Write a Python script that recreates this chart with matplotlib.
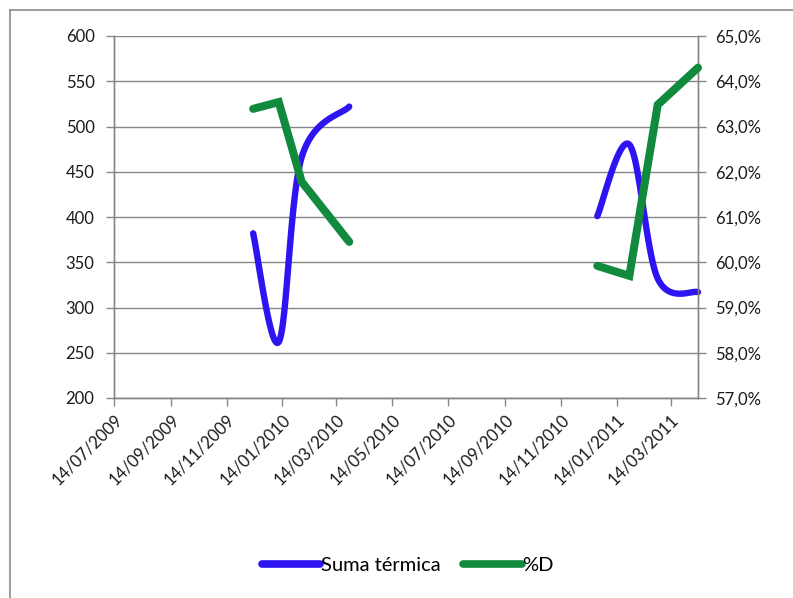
import numpy as np
import matplotlib
matplotlib.use("Agg")
import matplotlib.pyplot as plt
import matplotlib.dates as mdates
from matplotlib.ticker import FuncFormatter, MultipleLocator
from matplotlib.lines import Line2D
import datetime as dt

plt.rcParams['font.family'] = ['Lato', 'DejaVu Sans']

# ---- data ----
seg1_dates = ["2009-12-13", "2010-01-10", "2010-02-04", "2010-03-28"]
seg2_dates = ["2010-12-24", "2011-01-28", "2011-02-28", "2011-04-13"]
suma_seg1 = [382, 262, 466, 522]
suma_seg2 = [401, 480, 332, 317]
pctd_seg1 = [63.39, 63.54, 61.78, 60.45]
pctd_seg2 = [59.92, 59.70, 63.48, 64.30]
tick_labels = ["14/07/2009", "14/09/2009", "14/11/2009", "14/01/2010", "14/03/2010",
               "14/05/2010", "14/07/2010", "14/09/2010", "14/11/2010", "14/01/2011",
               "14/03/2011"]
series_names = ["Suma térmica", "%D"]

BLUE = "#2E14F0"
GREEN = "#128A3E"
GRID = "#868686"


def to_num(ds):
    return mdates.date2num([dt.datetime.strptime(d, "%Y-%m-%d") for d in ds])


def smooth(x, y, n=40):
    P = np.column_stack([x, y]).astype(float)
    out = []
    m = len(P)
    for i in range(m - 1):
        p0 = P[i - 1] if i > 0 else P[i]
        p1 = P[i]
        p2 = P[i + 1]
        p3 = P[i + 2] if i + 2 < m else P[i + 1]
        c1 = p1 + (p2 - p0) / 6.0
        c2 = p2 - (p3 - p1) / 6.0
        t = np.linspace(0, 1, n)[:, None]
        b = ((1 - t) ** 3) * p1 + 3 * ((1 - t) ** 2) * t * c1 + 3 * (1 - t) * t ** 2 * c2 + t ** 3 * p2
        out.append(b if i == 0 else b[1:])
    B = np.vstack(out)
    return B[:, 0], B[:, 1]


fig = plt.figure(figsize=(7.93, 5.98), dpi=100)
# outer chart border (only left and top visible in the crop)
fig.add_artist(Line2D([9.5 / 793, 9.5 / 793], [0, 1 - 10 / 598], transform=fig.transFigure,
                      color="#8C8C8C", lw=1.2))
fig.add_artist(Line2D([9.5 / 793, 1], [1 - 10 / 598, 1 - 10 / 598], transform=fig.transFigure,
                      color="#8C8C8C", lw=1.2))

ax = fig.add_axes([114 / 793, 200 / 598, 584 / 793, 362 / 598])
ax2 = ax.twinx()

x0 = mdates.date2num(dt.datetime(2009, 7, 14))
x1 = mdates.date2num(dt.datetime(2011, 4, 13))

for ds, vals in [(seg1_dates, suma_seg1), (seg2_dates, suma_seg2)]:
    sx, sy = smooth(to_num(ds), vals)
    ax.plot(sx, sy, color=BLUE, lw=4.6, solid_capstyle='round', solid_joinstyle='round',
            clip_on=False, zorder=3)
for ds, vals in [(seg1_dates, pctd_seg1), (seg2_dates, pctd_seg2)]:
    ax2.plot(to_num(ds), vals, color=GREEN, lw=5.8, solid_capstyle='round',
             solid_joinstyle='miter', clip_on=False, zorder=3)

ax.set_xlim(x0, x1)
ax.set_ylim(200, 600)
ax2.set_ylim(57, 65)
ax.yaxis.set_major_locator(MultipleLocator(50))
ax2.yaxis.set_major_locator(MultipleLocator(1))
ax2.yaxis.set_major_formatter(FuncFormatter(lambda v, p: f"{v:.1f}%".replace('.', ',')))

ticks = mdates.date2num([dt.datetime.strptime(t, "%d/%m/%Y") for t in tick_labels])
ax.set_xticks(ticks)
ax.set_xticklabels(tick_labels, rotation=45, ha='right', rotation_mode='anchor')

ax.grid(axis='y', color=GRID, lw=1.0)
ax.set_axisbelow(True)
for a in (ax, ax2):
    a.spines['top'].set_visible(False)
    for s in ('left', 'right', 'bottom'):
        a.spines[s].set_color(GRID)
        a.spines[s].set_linewidth(1.0)
ax.tick_params(axis='both', colors=GRID, labelcolor='#1a1a1a', labelsize=12, length=6, width=1)
ax2.tick_params(axis='y', colors=GRID, labelcolor='#1a1a1a', labelsize=12, length=6, width=1, pad=6)
ax.tick_params(axis='y', pad=8)
ax.tick_params(axis='x', pad=4)

handles = [Line2D([], [], color=BLUE, lw=5.5, solid_capstyle='round'),
           Line2D([], [], color=GREEN, lw=5.5, solid_capstyle='round')]
fig.legend(handles, series_names, loc='center', bbox_to_anchor=(408 / 793, 33 / 598), ncol=2,
           frameon=False, fontsize=14.5, handlelength=2.9, handletextpad=0.05, columnspacing=1.1)

fig.savefig("out.png", dpi=100)
